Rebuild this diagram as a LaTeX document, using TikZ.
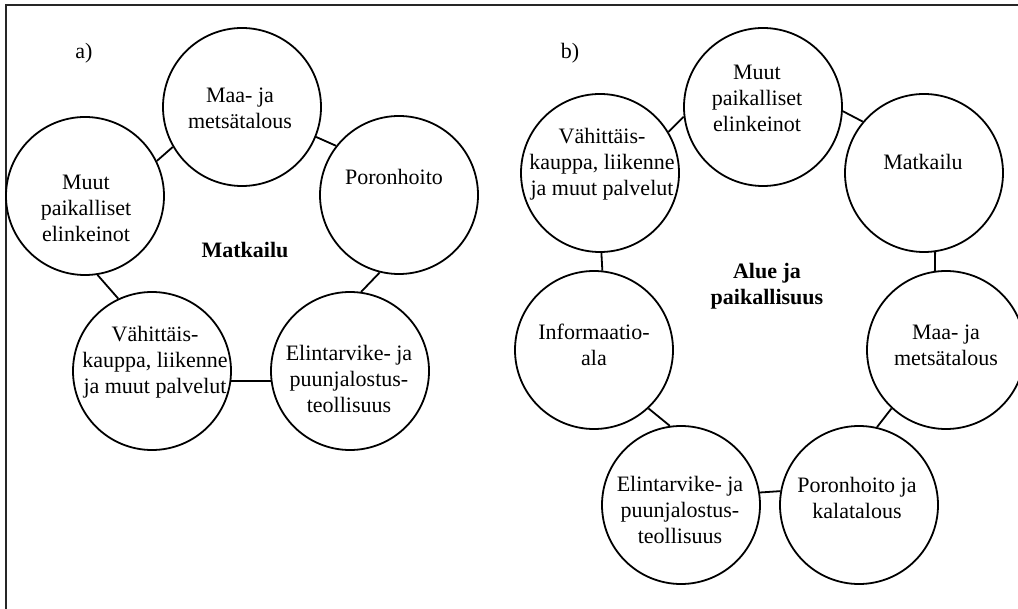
\documentclass[tikz,border=0pt]{standalone}
\usepackage{fontspec}
\setmainfont{Liberation Serif}

\tikzset{
  sector/.style={circle, draw, line width=0.9pt, minimum size=79pt, inner sep=0pt},
  lbl/.style={align=center, font=\fontsize{11}{13}\selectfont, inner sep=0pt},
  hub/.style={align=center, font=\fontsize{11}{13}\selectfont\bfseries, inner sep=0pt},
  link/.style={-, line width=0.9pt},
  frame/.style={line width=1pt, color=black!85}
}

\begin{document}
\begin{tikzpicture}[x=0.5pt, y=-0.5pt]
\useasboundingbox (0,0) rectangle (1018,609);
\clip (0,0) rectangle (1018,609);
\draw[frame] (6,609) -- (6,5) -- (1018,5);

% a)
\node[lbl] (tagA) at (84,53) {a)};
\node[sector] (a1) at (242,107) {};
\node[sector] (a2) at (399,195) {};
\node[sector] (a3) at (350,371) {};
\node[sector] (a4) at (152,371) {};
\node[sector] (a5) at (85,196) {};
\node[lbl] (a1t) at (240,108) {Maa- ja\\metsätalous};
\node[lbl] (a2t) at (394,177) {Poronhoito};
\node[lbl] (a3t) at (349,379) {Elintarvike- ja\\puunjalostus-\\teollisuus};
\node[lbl] (a4t) at (155,362) {Vähittäis-\\kauppa, liikenne\\ja muut palvelut};
\node[lbl] (a5t) at (86,208) {Muut\\paikalliset\\elinkeinot};
\node[hub] (hubA) at (245,250) {Matkailu};
\draw[link] (a1.-22.7) -- (a2.142.8);
\draw[link] (a1.210.6) -- (a5.26.6);
\draw[link] (a5.-81.4) -- (a4.115.6);
\draw[link] (a4.-7.3) -- (a3.187.2);
\draw[link] (a2.256.7) -- (a3.82.7);

% b)
\node[lbl] (tagB) at (570,53) {b)};
\node[sector] (b1) at (763,107) {};
\node[sector] (b2) at (924,173) {};
\node[sector] (b3) at (946,350) {};
\node[sector] (b4) at (859,505) {};
\node[sector] (b5) at (681,505) {};
\node[sector] (b6) at (594,350) {};
\node[sector] (b7) at (600,173) {};
\node[lbl] (b1t) at (757,98) {Muut\\paikalliset\\elinkeinot};
\node[lbl] (b2t) at (923,162) {Matkailu};
\node[lbl] (b3t) at (946,345) {Maa- ja\\metsätalous};
\node[lbl] (b4t) at (857,498) {Poronhoito ja\\kalatalous};
\node[lbl] (b5t) at (680,510) {Elintarvike- ja\\puunjalostus-\\teollisuus};
\node[lbl] (b6t) at (594,345) {Informaatio-\\ala};
\node[lbl] (b7t) at (602,164) {Vähittäis-\\kauppa, liikenne\\ja muut palvelut};
\node[hub] (hubB) at (767,286) {Alue ja\\paikallisuus};
\draw[link] (b1.-3.6) -- (b2.140.7);
\draw[link] (b1.187.9) -- (b7.31.5);
\draw[link] (b2.-82.6) -- (b3.98.6);
\draw[link] (b3.227) -- (b4.77.9);
\draw[link] (b4.170.7) -- (b5.9.3);
\draw[link] (b5.98.6) -- (b6.-47);
\draw[link] (b6.84.9) -- (b7.-89.3);
\end{tikzpicture}
\end{document}
